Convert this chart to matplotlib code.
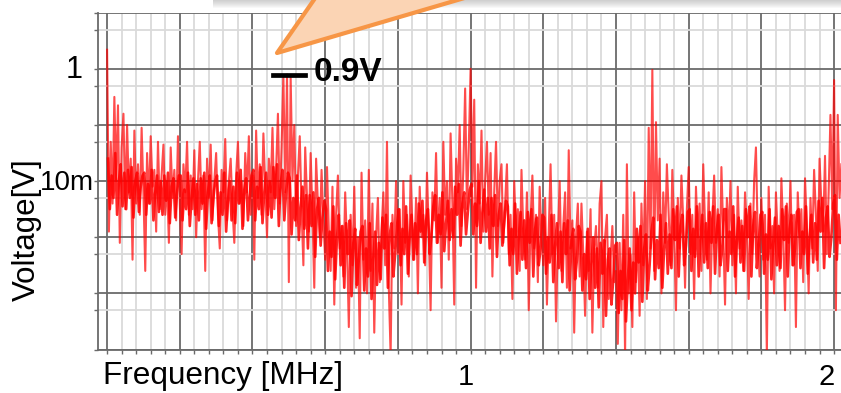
import numpy as np
import matplotlib
matplotlib.use("Agg")
import matplotlib.pyplot as plt
from matplotlib.patches import Polygon, Rectangle
from matplotlib.ticker import MultipleLocator, FixedLocator, NullFormatter

plt.rcParams['font.family'] = ['Liberation Sans', 'DejaVu Sans']

# spectrum: log10(voltage) every 0.005 MHz, from 0 to 2.02 MHz
bin_step = 0.005
level = [
    0.34, -2.9, -1.3, -2.4, -0.5, -2.0, -0.65, -3.1, -1.4, -0.8,
    -2.5, -1.0, -2.2, -1.6, -3.4, -1.1, -2.4, -1.7, -2.6, -1.05,
    -2.2, -3.6, -1.5, -2.4, -1.2, -2.1, -1.8, -2.9, -1.3, -2.5,
    -1.9, -1.35, -2.6, -2.0, -3.1, -1.4, -2.3, -1.8, -2.7, -1.2,
    -2.4, -3.3, -1.7, -2.2, -1.3, -2.6, -1.9, -2.5, -1.45, -3.0,
    -2.0, -1.3, -2.5, -1.9, -3.6, -1.6, -2.3, -1.35, -2.7, -2.0,
    -1.5, -2.6, -3.2, -1.8, -2.2, -1.25, -2.7, -2.0, -1.6, -2.5,
    -3.1, -1.9, -1.3, -2.4, -2.0, -2.8, -1.5, -2.2, -1.2, -2.6,
    -1.9, -3.4, -1.1, -2.3, -1.7, -2.6, -1.15, -2.1, -3.0, -1.6,
    -2.2, -1.05, -2.5, -1.8, -0.8, -2.4, -1.4, -0.12, -2.2, -0.1,
    -3.8, -0.15, -2.0, -1.0, -2.8, -1.9, -1.2, -2.5, -3.5, -1.4,
    -2.3, -2.9, -1.5, -2.6, -3.9, -1.6, -2.4, -3.0, -1.8, -2.7,
    -3.4, -1.75, -2.9, -3.6, -2.1, -4.2, -2.6, -1.9, -3.2, -2.8,
    -3.7, -2.2, -3.1, -4.6, -2.6, -3.5, -2.1, -3.9, -3.0, -4.8,
    -1.85, -3.4, -2.7, -4.0, -1.8, -3.6, -2.4, -4.7, -3.0, -2.3,
    -3.8, -2.9, -2.2, -3.5, -1.3, -3.9, -5.1, -2.6, -3.2, -2.0,
    -3.3, -2.5, -4.2, -2.0, -3.1, -2.6, -3.7, -1.9, -2.8, -3.4,
    -2.3, -4.0, -2.1, -3.0, -2.6, -3.5, -1.85, -2.9, -4.3, -2.2,
    -2.7, -1.5, -3.1, -2.3, -3.9, -1.3, -2.6, -2.0, -3.4, -1.15,
    -2.4, -4.2, -1.6, -2.2, -1.0, -2.8, -1.8, -0.35, -2.5, -1.4,
    0.0, -2.1, -0.55, -3.9, -1.7, -2.4, -1.1, -2.9, -2.0, -1.3,
    -2.6, -1.5, -3.7, -2.2, -1.3, -2.8, -2.0, -1.7, -3.1, -2.4,
    -1.7, -3.3, -2.6, -4.1, -2.0, -3.0, -2.5, -3.6, -1.8, -2.9,
    -3.4, -2.2, -4.3, -2.7, -1.9, -3.2, -2.6, -3.8, -2.1, -3.0,
    -3.5, -2.3, -4.2, -2.9, -1.7, -3.3, -2.6, -4.5, -3.1, -2.0,
    -3.6, -2.8, -2.2, -3.9, -1.45, -3.2, -2.7, -4.7, -3.0, -2.4,
    -3.7, -2.4, -3.3, -4.4, -2.9, -3.6, -2.5, -4.7, -3.2, -2.8,
    -3.9, -2.4, -2.0, -4.6, -3.0, -2.6, -4.1, -3.4, -2.8, -3.8,
    -3.6, -4.9, -3.1, -4.3, -2.6, -5.1, -1.7, -4.0, -3.3, -4.6,
    -2.2, -3.8, -3.0, -4.4, -2.4, -3.5, -2.0, -4.1, -1.05, -3.2,
    -0.02, -3.6, -0.95, -2.7, -1.6, -4.0, -2.2, -3.1, -1.7, -2.6,
    -3.5, -1.8, -2.9, -4.3, -2.3, -3.2, -1.9, -2.7, -3.9, -2.5,
    -1.75, -3.3, -2.6, -4.1, -2.1, -3.0, -2.4, -3.6, -1.7, -2.8,
    -3.4, -2.2, -4.0, -2.7, -1.9, -3.1, -2.5, -3.7, -1.75, -2.9,
    -4.2, -2.3, -3.0, -2.0, -3.5, -2.6, -4.0, -2.1, -3.2, -2.7,
    -3.6, -2.2, -2.9, -4.1, -2.4, -3.3, -2.0, -1.4, -3.0, -3.7,
    -2.3, -3.4, -2.6, -5.1, -2.1, -3.2, -2.8, -4.0, -2.2, -3.0,
    -3.6, -1.95, -2.9, -4.3, -2.4, -3.1, -2.0, -3.5, -2.6, -4.6,
    -2.2, -3.0, -2.5, -3.8, -1.95, -2.8, -4.0, -2.3, -3.2, -1.8,
    -2.6, -3.6, -1.6, -2.4, -2.9, -1.55, -3.3, -2.2, -0.82, -2.5,
    -0.2, -4.3, -0.82, -2.3, -1.7,
]

# the in-between bins (offset by half a bin): the dense noise floor
level_mid = [
    -1.6, -2.5, -1.9, -2.3, -1.5, -2.6, -2.0, -1.7, -2.45, -1.85,
    -2.5, -1.8, -2.3, -1.75, -2.65, -2.0, -1.85, -2.55, -2.1, -1.9,
    -1.85, -2.6, -2.05, -2.4, -1.8, -2.7, -2.2, -1.9, -2.55, -2.0,
    -2.6, -1.9, -2.35, -1.85, -2.75, -2.1, -1.95, -2.65, -2.2, -1.9,
    -1.9, -2.7, -2.15, -2.5, -1.85, -2.8, -2.3, -1.95, -2.6, -2.05,
    -2.7, -1.95, -2.4, -1.85, -2.85, -2.2, -1.9, -2.75, -2.3, -2.0,
    -1.9, -2.8, -2.2, -2.6, -1.85, -2.9, -2.35, -2.0, -2.7, -2.1,
    -2.75, -1.85, -2.4, -1.8, -2.85, -2.15, -1.95, -2.7, -2.25, -1.9,
    -1.8, -2.7, -2.1, -2.5, -1.75, -2.75, -2.2, -1.85, -2.6, -2.0,
    -2.65, -1.75, -2.3, -1.7, -2.8, -2.05, -1.8, -2.7, -2.2, -1.85,
    -1.95, -2.95, -2.3, -2.7, -1.9, -3.05, -2.45, -2.1, -2.85, -2.25,
    -3.2, -2.25, -2.8, -2.2, -3.35, -2.5, -2.3, -3.15, -2.65, -2.35,
    -2.5, -3.6, -2.9, -3.35, -2.45, -3.75, -3.0, -2.6, -3.5, -2.8,
    -3.9, -2.75, -3.3, -2.7, -4.05, -3.1, -2.85, -3.85, -3.4, -2.9,
    -2.8, -3.95, -3.2, -3.7, -2.75, -4.1, -3.35, -2.9, -3.85, -3.1,
    -3.75, -2.65, -3.2, -2.6, -3.9, -2.95, -2.75, -3.7, -3.3, -2.8,
    -2.5, -3.5, -2.85, -3.3, -2.45, -3.65, -3.0, -2.6, -3.4, -2.75,
    -3.3, -2.4, -2.9, -2.35, -3.45, -2.7, -2.5, -3.3, -2.95, -2.45,
    -2.25, -3.1, -2.6, -2.95, -2.2, -3.25, -2.75, -2.35, -3.05, -2.5,
    -3.0, -2.1, -2.6, -2.05, -3.15, -2.4, -2.2, -2.95, -2.55, -2.15,
    -2.05, -2.95, -2.4, -2.8, -2.0, -3.1, -2.55, -2.15, -2.9, -2.3,
    -3.2, -2.3, -2.8, -2.25, -3.35, -2.6, -2.4, -3.15, -2.75, -2.35,
    -2.45, -3.5, -2.85, -3.3, -2.4, -3.65, -3.0, -2.55, -3.4, -2.7,
    -3.55, -2.55, -3.1, -2.5, -3.7, -2.85, -2.65, -3.5, -3.2, -2.6,
    -2.65, -3.65, -3.0, -3.45, -2.6, -3.8, -3.15, -2.75, -3.55, -2.9,
    -3.8, -2.75, -3.3, -2.7, -3.95, -3.05, -2.85, -3.75, -3.4, -2.8,
    -2.9, -3.95, -3.3, -3.75, -2.85, -4.1, -3.45, -3.0, -3.9, -3.2,
    -4.25, -3.1, -3.65, -3.05, -4.4, -3.4, -3.2, -4.2, -3.75, -3.15,
    -3.1, -4.35, -3.6, -4.1, -3.05, -4.5, -3.75, -3.2, -4.3, -3.45,
    -4.0, -2.85, -3.45, -2.8, -4.15, -3.2, -2.95, -3.95, -3.5, -2.9,
    -2.65, -3.75, -3.05, -3.55, -2.6, -3.9, -3.2, -2.75, -3.65, -2.95,
    -3.55, -2.5, -3.05, -2.45, -3.7, -2.8, -2.6, -3.5, -3.15, -2.55,
    -2.5, -3.6, -2.85, -3.35, -2.45, -3.7, -3.0, -2.6, -3.45, -2.75,
    -3.55, -2.55, -3.1, -2.45, -3.65, -2.85, -2.6, -3.5, -3.2, -2.5,
    -2.5, -3.6, -2.9, -3.3, -2.45, -3.7, -3.05, -2.65, -3.45, -2.8,
    -3.6, -2.5, -3.0, -2.45, -3.7, -2.8, -2.55, -3.55, -3.15, -2.6,
    -2.55, -3.65, -2.95, -3.4, -2.5, -3.75, -3.1, -2.65, -3.5, -2.8,
    -3.55, -2.5, -3.05, -2.45, -3.7, -2.85, -2.6, -3.5, -3.2, -2.55,
    -2.5, -3.55, -2.9, -3.3, -2.45, -3.65, -3.0, -2.6, -3.45, -2.75,
    -3.4, -2.35, -2.9, -2.3, -3.55, -2.65, -2.45, -3.35, -3.0, -2.4,
    -2.25, -3.4, -2.6, -3.1,
]

freq_mhz = np.arange(len(level)) * bin_step
freq_mid = bin_step / 2 + np.arange(len(level_mid)) * bin_step
volts = 10.0 ** np.array(level)
volts_mid = 10.0 ** np.array(level_mid)

W, H = 841, 393
def fx(x):
    return x / W
def fy(y):
    return 1 - y / H

fig = plt.figure(figsize=(W / 100, H / 100), dpi=100)
ax = fig.add_axes([fx(98), fy(349.5), fx(841 - 98), (349.5 - 12.7) / H])

ax.plot(freq_mid, volts_mid, color='#ff0000', lw=1.9, alpha=0.85, zorder=2)
ax.plot(freq_mhz, volts, color='#ff0000', lw=1.5, alpha=0.7, zorder=3)

ax.set_yscale('log')
ax.set_xlim(-0.025, 2.019)
ax.set_ylim(1e-5, 10)

ax.xaxis.set_major_locator(MultipleLocator(0.2))
ax.xaxis.set_minor_locator(MultipleLocator(0.04))
ax.yaxis.set_major_locator(FixedLocator([10.0 ** k for k in range(-5, 2)]))
ax.yaxis.set_minor_locator(FixedLocator([5 * 10.0 ** k for k in range(-5, 1)]))
ax.xaxis.set_major_formatter(NullFormatter())
ax.xaxis.set_minor_formatter(NullFormatter())
ax.yaxis.set_major_formatter(NullFormatter())
ax.yaxis.set_minor_formatter(NullFormatter())

ax.grid(which='major', color='#6a6a6a', lw=1.3, zorder=1)
ax.grid(which='minor', color='#dadada', lw=1.3, zorder=0)
ax.set_axisbelow(True)
ax.tick_params(which='both', direction='out', length=3, width=1, color='#6a6a6a')

for s in ['top', 'right']:
    ax.spines[s].set_visible(False)
for s in ['left', 'bottom']:
    ax.spines[s].set_color('#6a6a6a')
    ax.spines[s].set_linewidth(1.3)

# labels, placed as on the slide
fig.text(fx(83), fy(70), "1", fontsize=22, ha='right', va='center')
fig.text(fx(94), fy(183), "10m", fontsize=20, ha='right', va='center')
fig.text(fx(27), fy(230), "Voltage[V]", fontsize=22.5, rotation=90, ha='center', va='center')
fig.text(fx(103), fy(384), "Frequency [MHz]", fontsize=22.7, ha='left', va='baseline')
fig.text(fx(466), fy(385), "1", fontsize=21, ha='center', va='baseline')
fig.text(fx(827), fy(385), "2", fontsize=21, ha='center', va='baseline')

# 0.9V marker
fig.add_artist(plt.Line2D([fx(273), fx(305)], [fy(74.5), fy(74.5)],
                          color='black', lw=3.4, transform=fig.transFigure))
fig.text(fx(314), fy(81), "0.9V", fontsize=24, fontweight='bold', ha='left', va='baseline')

# callout box above the plot: shadow and pointer
for k in range(8):
    fig.add_artist(Rectangle((fx(213), fy(1 + k)), fx(700), 0.1,
                             transform=fig.transFigure, facecolor='#808080',
                             edgecolor='none', alpha=0.05, zorder=5))
fig.add_artist(Polygon([(fx(318), fy(-6)), (fx(277), fy(53)), (fx(478), fy(-6))],
                       closed=True, transform=fig.transFigure,
                       facecolor='#fbd4b4', edgecolor='#f79646', lw=3,
                       joinstyle='round', zorder=6))

fig.savefig("out.png", dpi=100)
